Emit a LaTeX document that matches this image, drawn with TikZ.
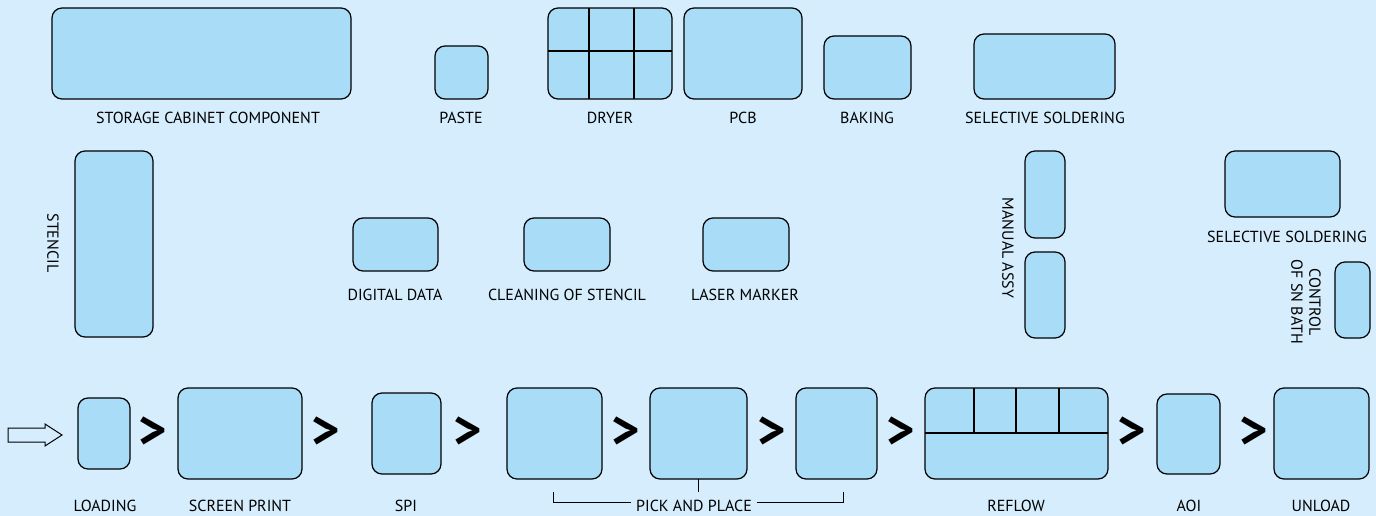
\documentclass[tikz,border=0pt]{standalone}
\usepackage{fontspec}
\setmainfont{PT Sans}
\definecolor{bg}{HTML}{D5EDFC}
\definecolor{boxfill}{HTML}{A9DCF7}
\begin{document}
\begin{tikzpicture}[x=1pt,y=-1pt,
  bx/.style={draw=black,line width=1.2pt,fill=boxfill,rounded corners=10pt},
  lbl/.style={font=\fontsize{16}{18}\selectfont,inner sep=0pt,anchor=base},
  gt/.style={font=\fontsize{54}{54}\selectfont\bfseries,inner sep=0pt},
  sep/.style={draw=black,line width=1.2pt}]
\fill[bg] (0,0) rectangle (1376,516);
\useasboundingbox (0,0) rectangle (1376,516);
% top row
\draw[bx] (52,8) rectangle (351,99);
\node[lbl] (lsc) at (208,124) {STORAGE CABINET COMPONENT};
\draw[bx] (435,46) rectangle (488,99);
\node[lbl] (lpa) at (461,124) {PASTE};
\draw[bx] (548,8) rectangle (672,99);
\draw[sep] (548,51) -- (672,51) (589,8) -- (589,99) (634,8) -- (634,99);
\node[lbl] (ldr) at (610,124) {DRYER};
\draw[bx] (684,8) rectangle (802,99);
\node[lbl] (lpcb) at (743,124) {PCB};
\draw[bx] (824,36) rectangle (911,99);
\node[lbl] (lba) at (867,124) {BAKING};
\draw[bx] (974,34) rectangle (1115,99);
\node[lbl] (lss) at (1045,124) {SELECTIVE SOLDERING};
% middle
\draw[bx] (75,151) rectangle (153,337);
\node[font=\fontsize{16}{18}\selectfont,inner sep=0pt,rotate=-90] (lst) at (53,243) {STENCIL};
\draw[bx] (353,218) rectangle (438,271);
\node[lbl] (ldd) at (395,300) {DIGITAL DATA};
\draw[bx] (524,218) rectangle (610,271);
\node[lbl] (lcs) at (567,300) {CLEANING OF STENCIL};
\draw[bx] (703,218) rectangle (789,271);
\node[lbl] (llm) at (745,300) {LASER MARKER};
\draw[bx] (1025,151) rectangle (1065,238);
\draw[bx] (1025,252) rectangle (1065,338);
\node[font=\fontsize{16}{18}\selectfont,inner sep=0pt,rotate=-90] (lma) at (1008,248) {MANUAL ASSY};
\draw[bx] (1225,151) rectangle (1340,217);
\node[lbl] (lss2) at (1287,242) {SELECTIVE SOLDERING};
\draw[bx] (1335,262) rectangle (1370,338);
\node[font=\fontsize{16}{18}\selectfont,inner sep=0pt,rotate=-90,align=center] (lsn) at (1306,302) {CONTROL\\OF SN BATH};
% bottom row
\draw[line width=1pt,fill=bg] (8,428) -- (45,428) -- (45,424) -- (62,435) -- (45,446) -- (45,442) -- (8,442) -- cycle;
\draw[bx] (78,398) rectangle (130,469);
\node[lbl] (llo) at (105,511) {LOADING};
\draw[bx] (178,388) rectangle (302,479);
\node[lbl] (lsp) at (240,511) {SCREEN PRINT};
\draw[bx] (372,393) rectangle (441,474);
\node[lbl] (lspi) at (406,511) {SPI};
\draw[bx] (507,388) rectangle (602,479);
\draw[bx] (650,388) rectangle (747,479);
\draw[bx] (796,388) rectangle (877,479);
\node[lbl] (lpp) at (694,511) {PICK AND PLACE};
\draw[line width=1pt] (553,492) -- (553,502) -- ([xshift=-5pt]lpp.west |- 0,502);
\draw[line width=1pt] ([xshift=5pt]lpp.east |- 0,502) -- (843,502) -- (843,492);
\draw[line width=1pt] (698,479) -- (698,492);
\draw[bx] (925,388) rectangle (1108,479);
\draw[sep] (925,433) -- (1108,433) (974,388) -- (974,433) (1016,388) -- (1016,433) (1059,388) -- (1059,433);
\node[lbl] (lre) at (1016,511) {REFLOW};
\draw[bx] (1157,394) rectangle (1220,474);
\node[lbl] (laoi) at (1189,511) {AOI};
\draw[bx] (1274,388) rectangle (1369,479);
\node[lbl] (lun) at (1321,511) {UNLOAD};
\foreach \x in {153,326,468,626,772,901,1132,1254} \node[gt] at (\x,433) {>};
\end{tikzpicture}
\end{document}
